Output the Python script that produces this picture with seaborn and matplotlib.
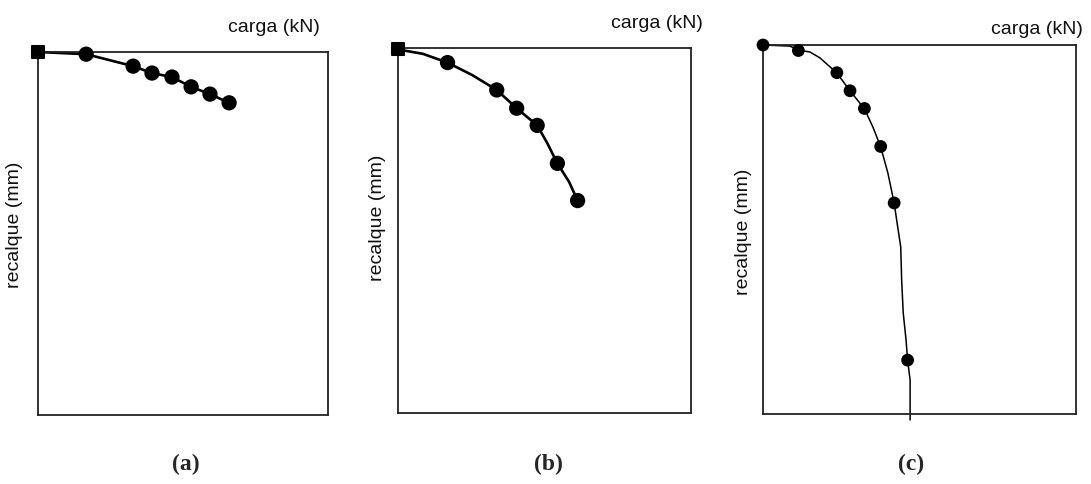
import numpy as np
import pandas as pd
import matplotlib
matplotlib.use("Agg")
import matplotlib.pyplot as plt
import seaborn as sns

# load (% of axis width) and settlement (% of axis height)
carga_a = [0.0, 16.6, 32.8, 39.3, 46.2, 52.8, 59.3, 65.9]
recalque_a = [0.0, 0.6, 3.9, 5.8, 6.9, 9.6, 11.6, 14.0]

carga_b = [0.0, 16.9, 33.7, 40.5, 47.5, 54.4, 61.3]
recalque_b = [0.4, 4.0, 11.5, 16.5, 21.2, 31.6, 41.8]

# traced path of the curve in (b)
curva_b_x = [0.0, 8.5, 16.9, 25.3, 33.7, 40.5, 47.5, 50.9, 54.4, 58.4, 61.3]
curva_b_y = [0.4, 1.6, 4.0, 7.4, 11.5, 16.5, 21.2, 26.0, 31.6, 36.7, 41.8]

carga_c = [0.0, 11.3, 23.6, 27.8, 32.4, 37.6, 41.9, 46.2]
recalque_c = [0.0, 1.5, 7.5, 12.4, 17.2, 27.5, 42.8, 85.4]

# traced path of the thin curve in (c)
curva_c_x = [0.0, 8.6, 11.5, 15.0, 18.2, 23.5, 27.8, 32.4, 35.1, 37.6, 39.9, 41.9,
             42.7, 44.0, 44.3, 44.8, 45.7, 46.2, 47.0, 47.0]
curva_c_y = [0.0, 0.3, 1.4, 1.9, 3.5, 7.5, 12.4, 17.3, 22.2, 27.6, 34.7, 42.8,
             47.4, 54.7, 63.7, 72.6, 79.9, 85.4, 90.8, 101.6]

panel_labels = ["(a)", "(b)", "(c)"]
x_label = "carga (kN)"
y_label = "recalque (mm)"

sns.set_theme(style="white")
plt.rcParams["font.family"] = ["Liberation Sans", "DejaVu Sans"]

W, H = 1091, 484
fig = plt.figure(figsize=(W / 100, H / 100), dpi=100)
fig.patch.set_facecolor("white")


def px_axes(x0, y0, x1, y1):
    return fig.add_axes([x0 / W, 1 - y1 / H, (x1 - x0) / W, (y1 - y0) / H])


def style_box(ax):
    ax.set_xlim(0, 100)
    ax.set_ylim(100, 0)
    ax.set_xticks([])
    ax.set_yticks([])
    ax.set_xlabel("")
    ax.set_ylabel("")
    for sp in ax.spines.values():
        sp.set_visible(True)
        sp.set_color("#222222")
        sp.set_linewidth(1.3)


boxes = [(38, 52, 328, 415), (398, 48, 691, 413), (763, 45, 1076, 414)]
axes = [px_axes(*b) for b in boxes]

# (a)
ax = axes[0]
sns.lineplot(x=carga_a, y=recalque_a, sort=False, estimator=None, color="black",
             lw=1.9, ax=ax, clip_on=False)
sns.scatterplot(x=carga_a[1:], y=recalque_a[1:], color="black", s=11 ** 2,
                edgecolor="none", ax=ax, clip_on=False, zorder=3)
sns.scatterplot(x=carga_a[:1], y=recalque_a[:1], color="black", s=9 ** 2, marker="s",
                edgecolor="black", linewidth=1.5, ax=ax, clip_on=False, zorder=3)

# (b)
ax = axes[1]
sns.lineplot(x=curva_b_x, y=curva_b_y, sort=False, estimator=None, color="black",
             lw=1.9, ax=ax, clip_on=False)
sns.scatterplot(x=carga_b[1:], y=recalque_b[1:], color="black", s=11 ** 2,
                edgecolor="none", ax=ax, clip_on=False, zorder=3)
sns.scatterplot(x=carga_b[:1], y=recalque_b[:1], color="black", s=9 ** 2, marker="s",
                edgecolor="black", linewidth=1.5, ax=ax, clip_on=False, zorder=3)

# (c)
ax = axes[2]
sns.lineplot(x=curva_c_x, y=curva_c_y, sort=False, estimator=None, color="black",
             lw=1.1, ax=ax, clip_on=False)
sns.scatterplot(x=carga_c, y=recalque_c, color="black", s=9.2 ** 2,
                edgecolor="none", ax=ax, clip_on=False, zorder=3)

for ax in axes:
    style_box(ax)

# axis captions
xl_pos = [(320, 27), (703, 24), (1083, 29)]
yl_pos = [(15, 225), (378, 218), (743, 232)]
for (x, y) in xl_pos:
    fig.text(x / W, 1 - y / H, x_label, ha="right", va="center", fontsize=14, color="#111111")
for (x, y) in yl_pos:
    fig.text(x / W, 1 - y / H, y_label, ha="center", va="center", rotation=90,
             fontsize=14, color="#111111")

lab_pos = [186, 548, 911]
for x, lab in zip(lab_pos, panel_labels):
    fig.text(x / W, 1 - 464 / H, lab, ha="center", va="center", fontsize=17,
             fontweight="bold", family=["Liberation Serif", "DejaVu Serif"])

fig.savefig("out.png", dpi=100, facecolor="white")
